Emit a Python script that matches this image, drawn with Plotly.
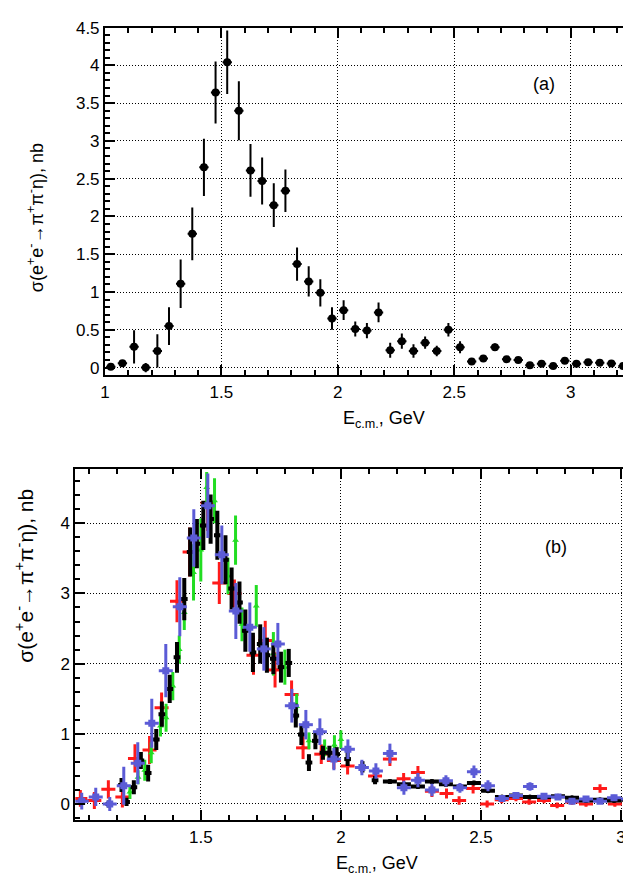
import plotly.graph_objects as go

W, H = 631, 876

# ---------------- Panel (a) data ----------------
a_E = [1.025, 1.075, 1.125, 1.175, 1.225, 1.275, 1.325, 1.375, 1.425, 1.475,
       1.525, 1.575, 1.625, 1.675, 1.725, 1.775, 1.825, 1.875, 1.925, 1.975,
       2.025, 2.075, 2.125, 2.175, 2.225, 2.275, 2.325, 2.375, 2.425, 2.475,
       2.525, 2.575, 2.625, 2.675, 2.725, 2.775, 2.825, 2.875, 2.925, 2.975,
       3.025, 3.075, 3.125, 3.175, 3.225, 3.275]
a_sig = [0.01, 0.057, 0.275, 0.0, 0.22, 0.55, 1.11, 1.77, 2.65, 3.64,
         4.04, 3.40, 2.61, 2.47, 2.15, 2.34, 1.37, 1.14, 0.99, 0.65,
         0.76, 0.51, 0.49, 0.73, 0.23, 0.35, 0.22, 0.33, 0.22, 0.50,
         0.27, 0.08, 0.12, 0.27, 0.11, 0.10, 0.03, 0.05, 0.02, 0.09,
         0.05, 0.07, 0.065, 0.055, 0.02, 0.03]
a_err = [0.02, 0.04, 0.22, 0.06, 0.22, 0.25, 0.32, 0.35, 0.38, 0.41,
         0.42, 0.39, 0.35, 0.31, 0.29, 0.28, 0.22, 0.20, 0.18, 0.15,
         0.13, 0.10, 0.10, 0.13, 0.10, 0.10, 0.09, 0.08, 0.07, 0.09,
         0.08, 0.03, 0.03, 0.05, 0.03, 0.03, 0.02, 0.02, 0.02, 0.03,
         0.02, 0.02, 0.02, 0.02, 0.02, 0.02]

# ---------------- Panel (b) data ----------------
blue_E = [1.075, 1.125, 1.175, 1.225, 1.275, 1.325, 1.375, 1.425, 1.475, 1.525,
          1.575, 1.625, 1.675, 1.725, 1.775, 1.825, 1.875, 1.925, 1.975, 2.025,
          2.075, 2.125, 2.175, 2.225, 2.275, 2.325, 2.375, 2.425, 2.475, 2.525,
          2.575, 2.625, 2.675, 2.725, 2.775, 2.825, 2.875, 2.925, 2.975, 3.025]
blue_sig = [0.04, 0.10, 0.0, 0.26, 0.58, 1.15, 1.90, 2.81, 3.79, 4.25,
            3.55, 2.75, 2.52, 2.21, 2.28, 1.40, 1.13, 1.03, 0.64, 0.78,
            0.52, 0.47, 0.72, 0.23, 0.34, 0.20, 0.33, 0.23, 0.46, 0.26,
            0.08, 0.12, 0.25, 0.11, 0.10, 0.04, 0.07, 0.04, 0.09, 0.07]
blue_err = [0.12, 0.13, 0.10, 0.27, 0.30, 0.35, 0.38, 0.42, 0.41, 0.46,
            0.42, 0.40, 0.35, 0.31, 0.30, 0.24, 0.21, 0.19, 0.16, 0.14,
            0.11, 0.11, 0.14, 0.10, 0.10, 0.09, 0.08, 0.07, 0.09, 0.08,
            0.04, 0.04, 0.06, 0.04, 0.04, 0.03, 0.03, 0.03, 0.04, 0.03]

red_E = [1.07, 1.12, 1.17, 1.22, 1.265, 1.317, 1.36, 1.415, 1.46, 1.524,
         1.566, 1.62, 1.688, 1.73, 1.765, 1.824, 1.865, 1.93, 1.975, 2.024,
         2.122, 2.175, 2.224, 2.275, 2.325, 2.377, 2.422, 2.472, 2.522, 2.574,
         2.625, 2.672, 2.725, 2.772, 2.825, 2.875, 2.925, 2.978]
red_sig = [0.08, 0.05, 0.21, 0.10, 0.65, 0.77, 1.37, 2.89, 3.59, 4.29,
           3.15, 3.00, 2.12, 2.33, 1.91, 1.56, 0.80, 0.71, 0.62, 0.54,
           0.40, 0.64, 0.36, 0.45, 0.18, 0.15, 0.05, 0.22, 0.0, 0.06,
           0.08, 0.03, 0.05, -0.02, 0.03, 0.0, 0.22, 0.0]
red_err = [0.12, 0.12, 0.13, 0.15, 0.20, 0.20, 0.22, 0.30, 0.35, 0.40,
           0.30, 0.20, 0.28, 0.28, 0.25, 0.20, 0.16, 0.14, 0.12, 0.12,
           0.10, 0.10, 0.08, 0.09, 0.08, 0.07, 0.06, 0.07, 0.05, 0.05,
           0.04, 0.04, 0.04, 0.04, 0.04, 0.04, 0.06, 0.04]

green_E = [1.247, 1.276, 1.30, 1.323, 1.356, 1.376, 1.40, 1.423, 1.441, 1.474,
           1.50, 1.521, 1.549, 1.597, 1.624, 1.647, 1.698, 1.759, 1.80, 1.842,
           1.886, 1.942, 1.977, 2.0]
green_sig = [0.17, 0.38, 0.48, 0.73, 1.11, 1.23, 1.68, 2.20, 2.73, 3.30,
             3.62, 4.51, 4.32, 3.25, 3.76, 2.56, 2.82, 2.14, 1.95, 1.39,
             0.90, 0.80, 0.84, 0.92]
green_err = [0.10, 0.10, 0.15, 0.15, 0.15, 0.20, 0.20, 0.20, 0.25, 0.40,
             0.45, 0.22, 0.32, 0.26, 0.35, 0.24, 0.30, 0.31, 0.25, 0.18,
             0.12, 0.12, 0.14, 0.13]

black_E = [1.172, 1.217, 1.235, 1.261, 1.286, 1.312, 1.341, 1.361, 1.389, 1.415,
           1.441, 1.462, 1.486, 1.509, 1.535, 1.559, 1.588, 1.610, 1.638, 1.659,
           1.686, 1.712, 1.736, 1.759, 1.786, 1.814, 1.839, 1.859, 1.886, 1.909,
           1.936, 1.959, 1.985, 2.024, 2.077, 2.122,
           2.175, 2.225, 2.275, 2.325, 2.375, 2.425, 2.475, 2.525, 2.575, 2.625,
           2.675, 2.725, 2.775, 2.825, 2.875, 2.925, 2.975, 3.025]
black_sig = [0.0, 0.27, 0.03, 0.24, 0.62, 0.44, 0.92, 1.28, 1.64, 2.09,
             2.92, 3.59, 3.71, 3.97, 4.06, 3.83, 3.48, 3.07, 2.87, 2.47,
             2.16, 2.28, 2.12, 2.07, 1.95, 2.01, 1.26, 0.99, 0.59, 0.90,
             0.73, 0.73, 0.71, 0.64, 0.53, 0.34,
             0.32, 0.28, 0.25, 0.32, 0.28, 0.25, 0.30, 0.19, 0.10, 0.12,
             0.10, 0.10, 0.11, 0.09, 0.05, 0.06, 0.05, 0.06]
black_err = [0.05, 0.10, 0.06, 0.10, 0.12, 0.12, 0.15, 0.18, 0.20, 0.22,
             0.30, 0.35, 0.35, 0.35, 0.35, 0.35, 0.35, 0.30, 0.30, 0.30,
             0.28, 0.28, 0.25, 0.22, 0.22, 0.20, 0.17, 0.15, 0.12, 0.12,
             0.10, 0.10, 0.10, 0.10, 0.08, 0.06,
             0.03, 0.03, 0.03, 0.03, 0.03, 0.03, 0.03, 0.03, 0.02, 0.02,
             0.02, 0.02, 0.02, 0.02, 0.02, 0.02, 0.02, 0.02]
black_xerr = [0.012] * 36 + [0.025] * 18

a_xticks = [1, 1.5, 2, 2.5, 3]
a_yticks = [0, 0.5, 1, 1.5, 2, 2.5, 3, 3.5, 4, 4.5]
b_xticks = [1.5, 2, 2.5, 3]
b_yticks = [0, 1, 2, 3, 4]

FONT = "Liberation Sans, Arial, Helvetica, sans-serif"

fig = go.Figure()

# panel (a)
fig.add_trace(go.Scatter(
    x=a_E, y=a_sig, mode="markers", xaxis="x", yaxis="y",
    marker=dict(color="black", size=8, symbol="circle"),
    error_y=dict(type="data", array=a_err, color="black", thickness=2, width=0),
    error_x=dict(type="constant", value=0.02, color="black", thickness=2, width=0),
    showlegend=False))

# panel (b)
fig.add_trace(go.Scatter(
    x=red_E, y=red_sig, mode="markers", xaxis="x2", yaxis="y2",
    marker=dict(color="#ff1a1a", size=3, symbol="square"),
    error_y=dict(type="data", array=red_err, color="#ff1a1a", thickness=3, width=0),
    error_x=dict(type="constant", value=0.025, color="#ff1a1a", thickness=3, width=0),
    showlegend=False))
fig.add_trace(go.Scatter(
    x=green_E, y=green_sig, mode="markers", xaxis="x2", yaxis="y2",
    marker=dict(color="#22dd22", size=6, symbol="triangle-up"),
    error_y=dict(type="data", array=green_err, color="#22dd22", thickness=3, width=0),
    error_x=dict(type="constant", value=0.004, color="#22dd22", thickness=3, width=0),
    showlegend=False))
fig.add_trace(go.Scatter(
    x=black_E, y=black_sig, mode="markers", xaxis="x2", yaxis="y2",
    marker=dict(color="black", size=5, symbol="circle"),
    error_y=dict(type="data", array=black_err, color="black", thickness=4, width=0),
    error_x=dict(type="data", array=black_xerr, color="black", thickness=4, width=0),
    showlegend=False))
fig.add_trace(go.Scatter(
    x=blue_E, y=blue_sig, mode="markers", xaxis="x2", yaxis="y2",
    marker=dict(color="#5b5bd6", size=7, symbol="square"),
    error_y=dict(type="data", array=blue_err, color="#5b5bd6", thickness=3, width=0),
    error_x=dict(type="constant", value=0.025, color="#5b5bd6", thickness=3, width=0),
    showlegend=False))

def px_x(p):
    return p / W

def px_y(p):
    return 1 - p / H

axis_common = dict(
    showline=True, linecolor="black", linewidth=2, mirror="allticks",
    ticks="inside", ticklen=10, tickwidth=1.5, tickcolor="black",
    showgrid=True, gridcolor="black", gridwidth=1, griddash="1px,2px",
    zeroline=False, tickfont=dict(family=FONT, size=17, color="black"),
)

fig.update_layout(
    width=W, height=H, margin=dict(l=0, r=0, t=0, b=0),
    paper_bgcolor="white", plot_bgcolor="white",
    xaxis=dict(axis_common, domain=[px_x(93), 1.0], range=[1.0, 3.285],
               anchor="y", tickvals=a_xticks, ticktext=[str(v) for v in a_xticks],
               minor=dict(ticks="inside", ticklen=5, dtick=0.1, tick0=1.0,
                          tickcolor="black", showgrid=False)),
    yaxis=dict(axis_common, domain=[px_y(362.7), px_y(10.7)], range=[-0.1, 4.5],
               anchor="x", tickvals=a_yticks, ticktext=[f"{v:g}" for v in a_yticks],
               minor=dict(ticks="inside", ticklen=5, dtick=0.1, tick0=0,
                          tickcolor="black", showgrid=False)),
    xaxis2=dict(axis_common, domain=[px_x(63), 1.0], range=[1.052, 3.057],
                anchor="y2", tickvals=b_xticks, ticktext=[f"{v:g}" for v in b_xticks],
                minor=dict(ticks="inside", ticklen=5, dtick=0.1, tick0=1.0,
                           tickcolor="black", showgrid=False)),
    yaxis2=dict(axis_common, domain=[px_y(813.7), px_y(458)], range=[-0.235, 4.77],
                anchor="x2", tickvals=b_yticks, ticktext=[str(v) for v in b_yticks],
                minor=dict(ticks="inside", ticklen=5, dtick=0.2, tick0=0,
                           tickcolor="black", showgrid=False)),
)

ytitle = "σ(e<sup>+</sup>e<sup>-</sup>→π<sup>+</sup>π<sup>-</sup>η), nb"
xtitle = "E<sub>c.m.</sub>, GeV"

annos = [
    dict(text=xtitle, x=px_x(419), y=px_y(408), xanchor="right", yanchor="middle",
         font=dict(family=FONT, size=18, color="black")),
    dict(text=xtitle, x=px_x(412), y=px_y(858), xanchor="right", yanchor="middle",
         font=dict(family=FONT, size=18, color="black")),
    dict(text=ytitle, x=px_x(23), y=px_y(203), xanchor="center", yanchor="middle",
         textangle=-90, font=dict(family=FONT, size=18, color="black")),
    dict(text=ytitle, x=px_x(11), y=px_y(566), xanchor="center", yanchor="middle",
         textangle=-90, font=dict(family=FONT, size=21, color="black")),
    dict(text="(a)", x=px_x(537), y=px_y(68), xanchor="center", yanchor="middle",
         font=dict(family=FONT, size=18, color="black")),
    dict(text="(b)", x=px_x(549), y=px_y(537), xanchor="center", yanchor="middle",
         font=dict(family=FONT, size=18, color="black")),
]
for a in annos:
    fig.add_annotation(xref="paper", yref="paper", showarrow=False, **a)

fig.write_html("out.html")
